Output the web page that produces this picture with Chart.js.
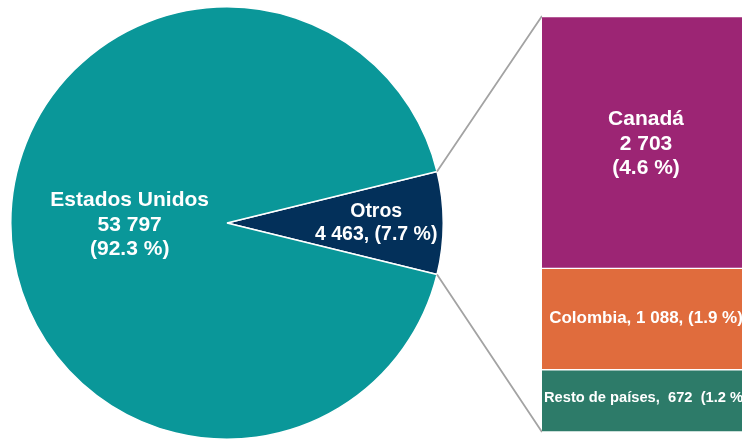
<!DOCTYPE html>
<html>
<head>
<meta charset="utf-8">
<script src="https://cdn.jsdelivr.net/npm/chart.js@4.4.1/dist/chart.umd.min.js"></script>
<style>
  html, body { margin: 0; padding: 0; background: #fff; overflow: hidden; }
  #wrap { position: relative; width: 742px; height: 440px; overflow: hidden; }
  #pie { position: absolute; left: 0; top: 0; }
  #bar { position: absolute; left: 542px; top: 0; }
</style>
</head>
<body>
<div id="wrap">
  <canvas id="pie" width="742" height="440"></canvas>
  <canvas id="bar" width="208" height="440"></canvas>
</div>
<script>
const pieLabels = ['Otros', 'Estados Unidos'];
const pieValues = [4463, 53797];
const pieShares = ['7.7 %', '92.3 %'];
const pieColors = ['#03305A', '#0A9799'];

// stacked from the bottom up
const barLabels = ['Resto de países', 'Colombia', 'Canadá'];
const barValues = [672, 1088, 2703];
const barShares = ['1.2 %', '1.9 %', '4.6 %'];
const barColors = ['#2D7B69', '#E06C3D', '#9C2574'];

const FONT = '"Liberation Sans", Arial, sans-serif';

const fmt = n => String(n).replace(/\B(?=(\d{3})+(?!\d))/g, ' ');

const pieText = [
  i => [pieLabels[i], `${fmt(pieValues[i])}, (${pieShares[i]})`],
  i => [pieLabels[i], fmt(pieValues[i]), `(${pieShares[i]})`],
];
const pieTextPos = [{ r: 0.69, size: 19.5, gap: 23, dy: 0 }, { r: 0.45, size: 21, gap: 24.5, dy: 2 }];

const barText = [
  i => [`${barLabels[i]},  ${barValues[i]}  (${barShares[i]})`],
  i => [`${barLabels[i]}, ${fmt(barValues[i])}, (${barShares[i]})`],
  i => [barLabels[i], fmt(barValues[i]), `(${barShares[i]})`],
];
const barTextPos = [{ size: 14.7, gap: 18, dy: -3 }, { size: 17, gap: 20, dy: 0 }, { size: 21, gap: 24.5, dy: 2 }];

function drawLines(ctx, lines, x, y, size, gap) {
  ctx.save();
  ctx.fillStyle = '#fff';
  ctx.font = `bold ${size}px ${FONT}`;
  ctx.textAlign = 'center';
  ctx.textBaseline = 'middle';
  const y0 = y - (lines.length - 1) * gap / 2;
  lines.forEach((t, k) => ctx.fillText(t, x, y0 + k * gap));
  ctx.restore();
}

const barLabelPlugin = {
  id: 'barLabels',
  afterDatasetsDraw(chart) {
    chart.data.datasets.forEach((ds, i) => {
      const el = chart.getDatasetMeta(i).data[0];
      const p = barTextPos[i];
      drawLines(chart.ctx, barText[i](i), el.x, (el.y + el.base) / 2 + p.dy, p.size, p.gap);
    });
  }
};

const barChart = new Chart(document.getElementById('bar'), {
  type: 'bar',
  data: {
    labels: [''],
    datasets: barLabels.map((l, i) => ({
      label: l,
      data: [barValues[i]],
      backgroundColor: barColors[i],
      borderColor: '#fff',
      borderWidth: { top: 1.5, right: 0, bottom: i === 0 ? 1 : 0, left: 0 },
      borderSkipped: false,
      barPercentage: 1, categoryPercentage: 1,
    }))
  },
  options: {
    responsive: false,
    animation: false,
    layout: { padding: { top: 16, bottom: 8, left: 0, right: 0 } },
    scales: {
      x: { stacked: true, display: false },
      y: { stacked: true, display: false, min: 0, max: barValues.reduce((a, b) => a + b, 0) }
    },
    plugins: { legend: { display: false }, tooltip: { enabled: false } },
    events: []
  },
  plugins: [barLabelPlugin]
});

const pieExtras = {
  id: 'pieExtras',
  afterDraw(chart) {
    const ctx = chart.ctx;
    const meta = chart.getDatasetMeta(0);
    // connectors from the "Otros" slice to the bar
    const arc = meta.data[0];
    const left = document.getElementById('bar').offsetLeft;
    const els = barChart.data.datasets.map((d, i) => barChart.getDatasetMeta(i).data[0]);
    const top = els[els.length - 1].y;
    const bottom = els[0].base;
    ctx.save();
    ctx.strokeStyle = '#A3A3A3';
    ctx.lineWidth = 1.8;
    ctx.beginPath();
    ctx.moveTo(arc.x + Math.cos(arc.startAngle) * arc.outerRadius, arc.y + Math.sin(arc.startAngle) * arc.outerRadius);
    ctx.lineTo(left, top);
    ctx.moveTo(arc.x + Math.cos(arc.endAngle) * arc.outerRadius, arc.y + Math.sin(arc.endAngle) * arc.outerRadius);
    ctx.lineTo(left, bottom);
    ctx.stroke();
    ctx.restore();
    // slice labels
    meta.data.forEach((a, i) => {
      const mid = (a.startAngle + a.endAngle) / 2;
      const p = pieTextPos[i];
      drawLines(ctx, pieText[i](i), a.x + Math.cos(mid) * a.outerRadius * p.r,
        a.y + Math.sin(mid) * a.outerRadius * p.r + p.dy, p.size, p.gap);
    });
  }
};

const otrosAngle = pieValues[0] / pieValues.reduce((a, b) => a + b, 0) * 360;

new Chart(document.getElementById('pie'), {
  type: 'pie',
  data: {
    labels: pieLabels,
    datasets: [{
      data: pieValues,
      backgroundColor: pieColors,
      borderColor: '#fff',
      borderWidth: 1.5,
    }]
  },
  options: {
    responsive: false,
    animation: false,
    rotation: 90 - otrosAngle / 2,
    layout: { padding: { left: 10, right: 298, top: 6, bottom: 0 } },
    plugins: { legend: { display: false }, tooltip: { enabled: false } },
    events: []
  },
  plugins: [pieExtras]
});
</script>
</body>
</html>
